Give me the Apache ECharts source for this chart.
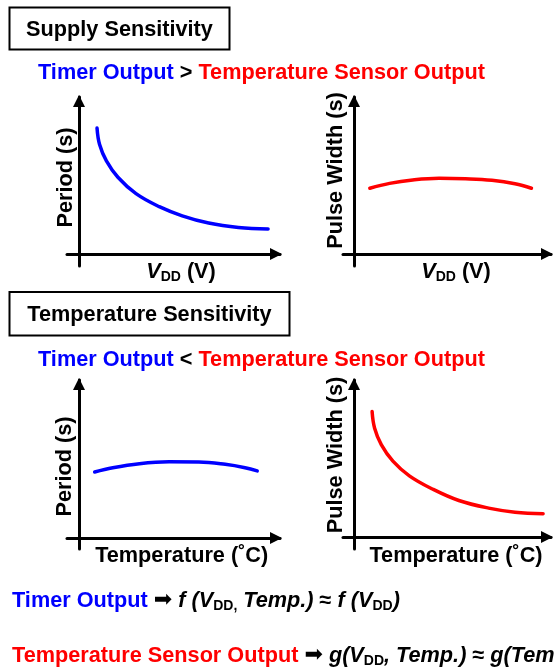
<!DOCTYPE html>
<html>
<head>
<meta charset="utf-8">
<title>Supply and Temperature Sensitivity</title>
<script src="https://cdn.jsdelivr.net/npm/echarts@6/dist/echarts.min.js"></script>
<style>
  html, body { margin: 0; padding: 0; background: #fff; }
  #chart { width: 554px; height: 668px; }
</style>
</head>
<body>
<div id="chart"></div>
<script>
// Normalized curves (0-100 on both axes) for the four sketch plots.
// Supply sweep: timer period falls with VDD, sensor pulse width is nearly flat.
const supplyTimerX  = [14.1, 15.3, 18.5, 23.9, 32.4, 43.3, 54.1, 66.5, 80.5, 94.4];
const supplyTimerY  = [81.6, 71.9, 62.2, 52.5, 42.8, 35.1, 29.7, 25.4, 22.8, 21.9];
const supplySensorX = [12.9, 22.4, 33.5, 46.2, 58.9, 71.6, 82.7, 90.6];
const supplySensorY = [46.0, 48.9, 50.9, 51.9, 51.6, 50.7, 48.7, 46.0];
// Temperature sweep: timer period is nearly flat, sensor pulse width falls.
const tempTimerX    = [13.0, 21.5, 34.0, 47.9, 61.9, 74.3, 83.6, 89.3];
const tempTimerY    = [45.6, 48.1, 50.5, 51.6, 51.5, 50.1, 48.1, 46.2];
const tempSensorX   = [14.0, 15.2, 18.4, 24.0, 31.9, 43.0, 55.7, 70.0, 82.7, 96.2];
const tempSensorY   = [81.3, 71.5, 61.8, 52.0, 43.3, 35.5, 28.7, 24.2, 21.8, 20.9];

// Text
const headingSupply = 'Supply Sensitivity';
const headingTemp = 'Temperature Sensitivity';
const timerName = 'Timer Output';
const sensorName = 'Temperature Sensor Output';
const periodLabel = 'Period (s)';
const pulseLabel = 'Pulse Width (s)';
const tempAxisLabel = 'Temperature (\u02DAC)';

const BLUE = '#0000FF';
const RED = '#FF0000';
const FONT = '"Liberation Sans", Arial, Helvetica, sans-serif';
const FS = 21.7;

const pairs = (xs, ys) => xs.map((x, i) => [x, ys[i]]);

const chart = echarts.init(document.getElementById('chart'), null, { renderer: 'canvas' });

// Plot frames: left/top/width/height of each grid, plus axis offsets that
// let the x-axis start left of the y-axis and the y-axis run below the x-axis.
const frames = [
  { left: 67,  top: 97,  width: 213, height: 169, xOff: -12, yOff: -12 },
  { left: 343, top: 97,  width: 208, height: 169, xOff: -12, yOff: -11 },
  { left: 67,  top: 380, width: 213, height: 169, xOff: -11, yOff: -12 },
  { left: 343, top: 380, width: 208, height: 169, xOff: -12, yOff: -11 }
];

const axisLine = {
  show: true,
  onZero: false,
  lineStyle: { color: '#000', width: 3 },
  symbol: ['none', 'triangle'],
  symbolSize: [12, 12],
  symbolOffset: [0, -4]
};

const hiddenBits = {
  axisTick: { show: false },
  axisLabel: { show: false },
  splitLine: { show: false },
  splitArea: { show: false }
};

const grid = frames.map(f => ({
  left: f.left, top: f.top, width: f.width, height: f.height,
  containLabel: false, outerBoundsMode: 'none'
}));

const xAxis = frames.map((f, i) => Object.assign({
  type: 'value', gridIndex: i, min: 0, max: 100, position: 'bottom',
  offset: f.xOff, axisLine: axisLine
}, hiddenBits));

const yAxis = frames.map((f, i) => Object.assign({
  type: 'value', gridIndex: i, min: 0, max: 100, position: 'left',
  offset: f.yOff, axisLine: axisLine
}, hiddenBits));

const curve = (idx, data, color) => ({
  type: 'line',
  xAxisIndex: idx, yAxisIndex: idx,
  data: data,
  smooth: 0.4,
  showSymbol: false,
  silent: true,
  lineStyle: { color: color, width: 3.5, cap: 'round' }
});

const series = [
  curve(0, pairs(supplyTimerX, supplyTimerY), BLUE),
  curve(1, pairs(supplySensorX, supplySensorY), RED),
  curve(2, pairs(tempTimerX, tempTimerY), BLUE),
  curve(3, pairs(tempSensorX, tempSensorY), RED)
];

// Rich text styles (zrender text styles use fill for colour)
const main = { fontFamily: FONT, fontWeight: 'bold', fontSize: FS, lineHeight: 24, fill: '#000' };
const rich = {
  b:    main,
  blue: Object.assign({}, main, { fill: BLUE }),
  red:  Object.assign({}, main, { fill: RED }),
  i:    Object.assign({}, main, { fontStyle: 'italic' }),
  sub:  { fontFamily: FONT, fontWeight: 'bold', fontSize: 14, lineHeight: 14, fill: '#000', verticalAlign: 'bottom' },
  arr:  { fontFamily: '"DejaVu Sans", sans-serif', fontSize: 22, lineHeight: 24, fill: '#000' }
};

const richText = (text, x, y, align) => ({
  type: 'text', x: x, y: y, silent: true,
  style: { text: text, rich: rich, align: align || 'left', verticalAlign: 'middle' }
});

const plainText = (text, x, y, rotation) => ({
  type: 'text', x: x, y: y, rotation: rotation || 0, silent: true,
  style: {
    text: text, fontFamily: FONT, fontWeight: 'bold', fontSize: FS,
    fill: '#000', align: 'center', verticalAlign: 'middle'
  }
});

const box = (x, y, w, h) => ({
  type: 'rect', silent: true,
  shape: { x: x, y: y, width: w, height: h },
  style: { fill: '#fff', stroke: '#000', lineWidth: 2 }
});

const vddLabel = '{i|V}{sub|DD}{b| (V)}';

const graphic = [
  // Section headings
  box(9.5, 7.5, 220, 42),
  plainText(headingSupply, 119.5, 29.7),
  richText('{blue|' + timerName + '}{b| > }{red|' + sensorName + '}', 38, 72.7),

  box(9.5, 292, 280, 43.5),
  plainText(headingTemp, 149.5, 314.7),
  richText('{blue|' + timerName + '}{b| < }{red|' + sensorName + '}', 38, 359.7),

  // Axis titles
  plainText(periodLabel, 65.7, 177.5, Math.PI / 2),
  plainText(pulseLabel, 336, 170.5, Math.PI / 2),
  plainText(periodLabel, 65.4, 466.5, Math.PI / 2),
  plainText(pulseLabel, 335.7, 455, Math.PI / 2),
  richText(vddLabel, 181, 272.2, 'center'),
  richText(vddLabel, 456, 272.2, 'center'),
  plainText(tempAxisLabel, 181.7, 555.7),
  plainText(tempAxisLabel, 456, 555.7),

  // Summary relations
  richText('{blue|' + timerName + '}{b| }{arr|\u27A1}{i| f (V}{sub|DD,}{i| Temp.)}{b| \u2248 }{i|f (V}{sub|DD}{i|)}', 12, 600.7),
  richText('{red|' + sensorName + '}{b| }{arr|\u27A1}{i| g(V}{sub|DD}{i|, Temp.)}{b| \u2248 }{i|g(Temp.)}', 12, 655.7)
];

chart.setOption({
  animation: false,
  backgroundColor: '#fff',
  grid: grid,
  xAxis: xAxis,
  yAxis: yAxis,
  series: series,
  graphic: graphic
});
</script>
</body>
</html>
